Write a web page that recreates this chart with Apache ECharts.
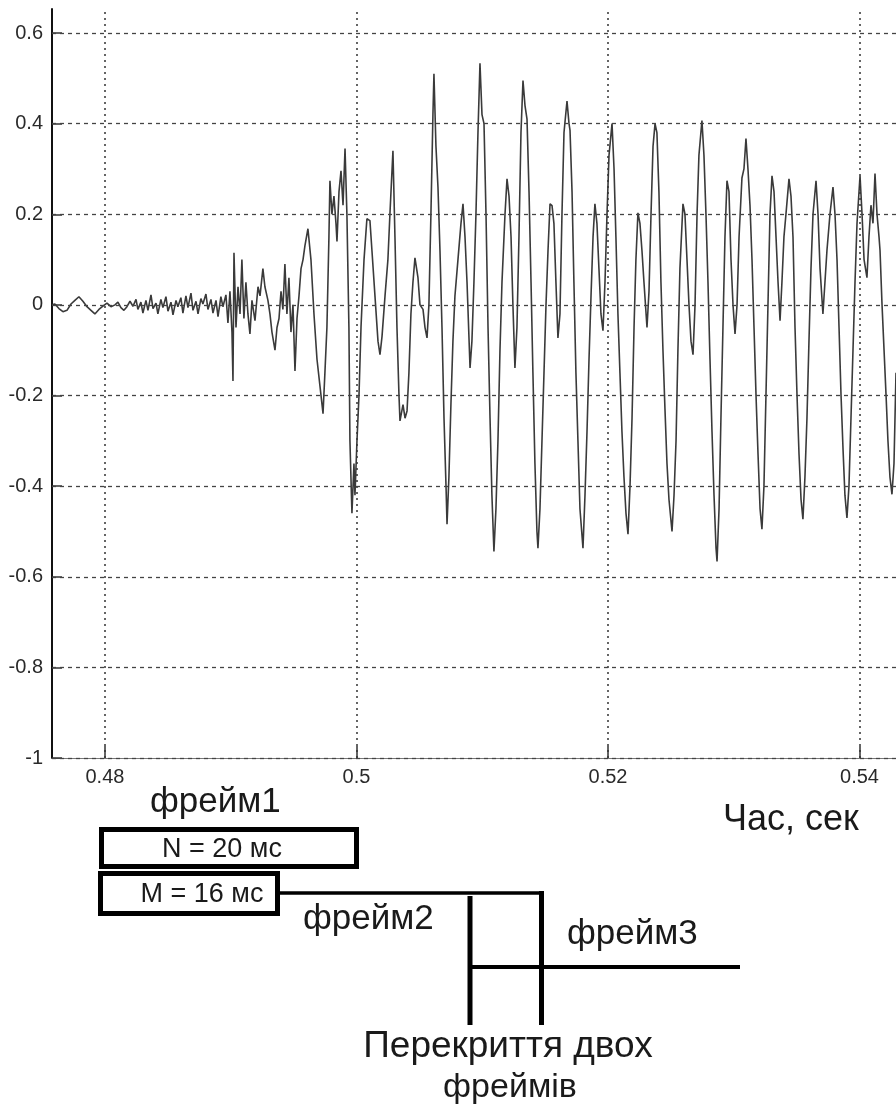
<!DOCTYPE html>
<html>
<head>
<meta charset="utf-8">
<title>Фрейми сигналу</title>
<script src="https://cdn.jsdelivr.net/npm/echarts@6.0.0/dist/echarts.min.js"></script>
<style>
  html, body { margin: 0; padding: 0; background: #fff; }
  #chart { width: 896px; height: 1109px; }
</style>
</head>
<body>
<div id="chart"></div>
<script>
  // axis ticks
  var xTicks = [0.48, 0.5, 0.52, 0.54];
  var yTicks = [-1, -0.8, -0.6, -0.4, -0.2, 0, 0.2, 0.4, 0.6];

  // waveform, [time (s), amplitude]
  // quiet lead-in before the onset
  var noiseLead = [
    [0.47579, 0.000], [0.47602, 0.002], [0.47634, -0.008], [0.47666, -0.015], [0.47698, -0.012],
    [0.47730, 0.002], [0.47761, 0.010], [0.47793, 0.018], [0.47825, 0.008], [0.47857, -0.004],
    [0.47889, -0.012], [0.47920, -0.020], [0.47952, -0.010], [0.47984, -0.003], [0.48016, 0.004],
    [0.48048, -0.004], [0.48080, 0.000], [0.48103, 0.006], [0.48127, -0.006], [0.48151, -0.012],
    [0.48175, -0.004], [0.48199, 0.008], [0.48223, -0.003], [0.48247, 0.012], [0.48262, -0.010],
    [0.48286, 0.006], [0.48302, -0.018], [0.48326, 0.010], [0.48342, -0.012], [0.48366, 0.022],
    [0.48382, -0.008], [0.48406, 0.004], [0.48421, -0.020], [0.48445, 0.012], [0.48461, -0.006],
    [0.48485, 0.018], [0.48501, -0.014], [0.48525, 0.006], [0.48541, -0.022], [0.48565, 0.010],
    [0.48580, -0.004], [0.48604, 0.016], [0.48620, -0.018], [0.48644, 0.020], [0.48660, -0.006],
    [0.48684, 0.026], [0.48700, -0.012], [0.48724, 0.008], [0.48740, -0.020], [0.48763, 0.014],
    [0.48779, 0.002], [0.48803, 0.024], [0.48819, -0.010], [0.48843, 0.012], [0.48859, -0.018],
    [0.48883, 0.010], [0.48899, -0.026], [0.48922, 0.018], [0.48938, -0.004], [0.48962, 0.022],
    [0.48978, -0.040]
  ];
  // onset, up to 0.5 s
  var onset = [
    [0.48994, 0.030], [0.49010, -0.060], [0.49018, -0.168], [0.49026, 0.115], [0.49042, -0.050],
    [0.49058, 0.040], [0.49074, -0.020], [0.49089, 0.100], [0.49105, -0.030], [0.49121, 0.050],
    [0.49137, -0.020], [0.49153, -0.064], [0.49169, 0.010], [0.49193, -0.035], [0.49217, 0.040],
    [0.49233, 0.020], [0.49256, 0.080], [0.49272, 0.040], [0.49296, 0.010], [0.49312, -0.020],
    [0.49328, -0.060], [0.49352, -0.100], [0.49368, -0.050], [0.49384, -0.030], [0.49400, 0.030],
    [0.49415, -0.010], [0.49431, 0.090], [0.49447, -0.020], [0.49463, 0.060], [0.49479, -0.060],
    [0.49495, 0.000], [0.49511, -0.146], [0.49527, -0.030], [0.49543, 0.020], [0.49559, 0.080],
    [0.49575, 0.100], [0.49590, 0.130], [0.49614, 0.168], [0.49638, 0.100], [0.49662, -0.020],
    [0.49686, -0.120], [0.49710, -0.180], [0.49734, -0.240], [0.49749, -0.150], [0.49765, -0.050],
    [0.49781, 0.150], [0.49789, 0.274], [0.49805, 0.200], [0.49821, 0.240], [0.49837, 0.180],
    [0.49845, 0.140], [0.49861, 0.250], [0.49877, 0.296], [0.49893, 0.220], [0.49909, 0.345],
    [0.49924, 0.200], [0.49940, -0.050], [0.49948, -0.300], [0.49964, -0.460], [0.49980, -0.350],
    [0.49988, -0.420], [0.50004, -0.300]
  ];
  // voiced part
  var voiced = [
    [0.50020, -0.200], [0.50036, -0.050], [0.50060, 0.100], [0.50083, 0.190], [0.50107, 0.186],
    [0.50123, 0.120], [0.50147, 0.020], [0.50171, -0.080], [0.50187, -0.110], [0.50203, -0.070],
    [0.50227, 0.020], [0.50250, 0.100], [0.50266, 0.200], [0.50290, 0.340], [0.50306, 0.150],
    [0.50322, -0.050], [0.50338, -0.200], [0.50346, -0.256], [0.50370, -0.220], [0.50386, -0.250],
    [0.50402, -0.234], [0.50417, -0.150], [0.50433, -0.020], [0.50449, 0.050], [0.50465, 0.104],
    [0.50489, 0.060], [0.50505, 0.000], [0.50529, -0.010], [0.50545, -0.050], [0.50561, -0.073],
    [0.50576, 0.000], [0.50592, 0.200], [0.50608, 0.420], [0.50616, 0.510], [0.50632, 0.350],
    [0.50648, 0.260], [0.50664, 0.120], [0.50680, -0.050], [0.50696, -0.250], [0.50712, -0.400],
    [0.50720, -0.484], [0.50735, -0.380], [0.50751, -0.220], [0.50767, -0.080], [0.50783, 0.020],
    [0.50807, 0.100], [0.50831, 0.180], [0.50847, 0.223], [0.50863, 0.150], [0.50879, 0.050],
    [0.50903, -0.139], [0.50918, -0.080], [0.50934, 0.050], [0.50950, 0.200], [0.50966, 0.380],
    [0.50982, 0.533], [0.50998, 0.420], [0.51014, 0.400], [0.51030, 0.200], [0.51046, -0.050],
    [0.51062, -0.250], [0.51077, -0.420], [0.51093, -0.544], [0.51109, -0.450], [0.51125, -0.300],
    [0.51141, -0.100], [0.51157, 0.050], [0.51181, 0.200], [0.51197, 0.278], [0.51213, 0.240],
    [0.51229, 0.150], [0.51244, 0.000], [0.51260, -0.139], [0.51276, -0.050], [0.51292, 0.150],
    [0.51308, 0.380], [0.51324, 0.495], [0.51340, 0.440], [0.51356, 0.410], [0.51372, 0.250],
    [0.51388, 0.050], [0.51403, -0.150], [0.51419, -0.350], [0.51435, -0.500], [0.51443, -0.537],
    [0.51459, -0.450], [0.51475, -0.300], [0.51491, -0.150], [0.51507, 0.000], [0.51523, 0.120],
    [0.51539, 0.223], [0.51555, 0.219], [0.51570, 0.180], [0.51586, 0.050], [0.51602, -0.073],
    [0.51618, -0.020], [0.51634, 0.200], [0.51650, 0.380], [0.51674, 0.450], [0.51690, 0.400],
    [0.51698, 0.385], [0.51714, 0.250], [0.51729, 0.050], [0.51745, -0.150], [0.51761, -0.300],
    [0.51777, -0.450], [0.51801, -0.537], [0.51817, -0.420], [0.51833, -0.280], [0.51849, -0.120],
    [0.51865, 0.020], [0.51881, 0.150], [0.51896, 0.223], [0.51912, 0.180], [0.51928, 0.080],
    [0.51944, -0.020], [0.51960, -0.057], [0.51976, 0.050], [0.51992, 0.200], [0.52008, 0.330],
    [0.52032, 0.400], [0.52048, 0.300], [0.52063, 0.150], [0.52079, -0.020], [0.52095, -0.150],
    [0.52111, -0.280], [0.52127, -0.380], [0.52143, -0.460], [0.52159, -0.506], [0.52175, -0.400],
    [0.52191, -0.250], [0.52207, -0.050], [0.52222, 0.100], [0.52238, 0.203], [0.52254, 0.180],
    [0.52270, 0.120], [0.52286, 0.050], [0.52310, -0.050], [0.52326, 0.030], [0.52342, 0.200],
    [0.52358, 0.350], [0.52374, 0.400], [0.52389, 0.380], [0.52405, 0.250], [0.52421, 0.050],
    [0.52437, -0.100], [0.52453, -0.230], [0.52469, -0.350], [0.52485, -0.430], [0.52509, -0.500],
    [0.52525, -0.420], [0.52541, -0.300], [0.52556, -0.100], [0.52572, 0.080], [0.52596, 0.223],
    [0.52612, 0.200], [0.52628, 0.100], [0.52644, 0.000], [0.52660, -0.080], [0.52676, -0.110],
    [0.52692, 0.000], [0.52708, 0.200], [0.52723, 0.330], [0.52747, 0.407], [0.52763, 0.330],
    [0.52779, 0.200], [0.52795, 0.050], [0.52811, -0.120], [0.52827, -0.280], [0.52843, -0.420],
    [0.52859, -0.537], [0.52867, -0.566], [0.52883, -0.450], [0.52898, -0.250], [0.52914, -0.050],
    [0.52930, 0.150], [0.52946, 0.274], [0.52962, 0.250], [0.52978, 0.100], [0.52994, 0.000],
    [0.53010, -0.064], [0.53026, 0.000], [0.53042, 0.150], [0.53065, 0.280], [0.53081, 0.300],
    [0.53097, 0.367], [0.53113, 0.300], [0.53129, 0.220], [0.53145, 0.100], [0.53161, -0.050],
    [0.53177, -0.200], [0.53193, -0.330], [0.53209, -0.450], [0.53224, -0.495], [0.53240, -0.400],
    [0.53256, -0.200], [0.53272, 0.000], [0.53288, 0.200], [0.53304, 0.285], [0.53320, 0.250],
    [0.53336, 0.150], [0.53352, 0.050], [0.53368, -0.035], [0.53383, 0.050], [0.53399, 0.150],
    [0.53415, 0.200], [0.53439, 0.278], [0.53455, 0.240], [0.53471, 0.150], [0.53487, -0.050],
    [0.53503, -0.200], [0.53519, -0.330], [0.53535, -0.430], [0.53550, -0.473], [0.53566, -0.380],
    [0.53582, -0.250], [0.53598, -0.080], [0.53614, 0.080], [0.53630, 0.200], [0.53654, 0.274],
    [0.53670, 0.200], [0.53686, 0.080], [0.53709, -0.020], [0.53725, 0.050], [0.53741, 0.120],
    [0.53765, 0.200], [0.53789, 0.260], [0.53805, 0.200], [0.53821, 0.100], [0.53837, -0.050],
    [0.53853, -0.200], [0.53869, -0.320], [0.53884, -0.420], [0.53900, -0.470], [0.53916, -0.400],
    [0.53932, -0.250], [0.53948, -0.100], [0.53964, 0.050], [0.53980, 0.180], [0.54004, 0.285],
    [0.54020, 0.200], [0.54036, 0.100], [0.54059, 0.060], [0.54075, 0.150], [0.54091, 0.220],
    [0.54107, 0.180], [0.54123, 0.290], [0.54139, 0.200], [0.54155, 0.150], [0.54163, 0.120],
    [0.54179, 0.000], [0.54195, -0.100], [0.54211, -0.200], [0.54226, -0.300], [0.54242, -0.380],
    [0.54258, -0.418], [0.54274, -0.350], [0.54290, -0.150]
  ];

  // diagram texts under the axis
  var frameLabels = ['фрейм1', 'фрейм2', 'фрейм3'];
  var lengthLabels = ['N = 20 мс', 'M = 16 мс'];
  var axisTitle = 'Час, сек';
  var overlapLabel = ['Перекриття двох', 'фреймів'];

  var waveform = noiseLead.concat(onset, voiced);
  var fontFamily = '"Liberation Sans", Arial, sans-serif';
  var ink = '#1a1a1a';

  var gridLines = xTicks.map(function (v) {
    return { xAxis: v, lineStyle: { color: '#333', width: 1.5, type: [2, 4] } };
  }).concat(yTicks.map(function (v) {
    return { yAxis: v, lineStyle: { color: '#444', width: 1.3, type: [4, 4] } };
  }));

  function label(text, x, y, size, align) {
    return {
      type: 'text',
      style: {
        text: text, x: x, y: y, font: size + 'px ' + fontFamily, fill: ink,
        textAlign: align || 'left', textVerticalAlign: 'middle'
      }
    };
  }

  var myChart = echarts.init(document.getElementById('chart'));
  var option = {
    backgroundColor: '#fff',
    animation: false,
    grid: { left: 52, top: 9, right: 0, bottom: 351, containLabel: false },
    xAxis: {
      type: 'value',
      min: 0.47579,
      max: 0.5429,
      axisLine: { onZero: false, lineStyle: { color: '#777', width: 1 } },
      axisTick: { inside: true, length: 12, customValues: xTicks, lineStyle: { color: '#333', width: 1.5 } },
      axisLabel: { customValues: xTicks, margin: 9, fontSize: 20, color: '#2a2a2a', fontFamily: 'Liberation Sans' },
      splitLine: { show: false }
    },
    yAxis: {
      type: 'value',
      min: -1,
      max: 0.653,
      axisLine: { onZero: false, lineStyle: { color: '#111', width: 2 } },
      axisTick: { inside: true, length: 10, customValues: yTicks, lineStyle: { color: '#333', width: 1.5 } },
      axisLabel: { customValues: yTicks, margin: 9, fontSize: 20, color: '#2a2a2a', fontFamily: 'Liberation Sans' },
      splitLine: { show: false }
    },
    series: [{
      type: 'line',
      data: waveform,
      showSymbol: false,
      clip: true,
      lineStyle: { color: '#3a3a3a', width: 1.6 },
      markLine: {
        silent: true,
        symbol: 'none',
        label: { show: false },
        data: gridLines
      }
    }],
    graphic: [
      label(frameLabels[0], 150, 802, 35),
      { type: 'rect', shape: { x: 101.5, y: 829.5, width: 255, height: 37 }, style: { fill: 'none', stroke: '#000', lineWidth: 5 } },
      label(lengthLabels[0], 222, 850, 27, 'center'),
      { type: 'rect', shape: { x: 100.5, y: 873.5, width: 177, height: 40 }, style: { fill: 'none', stroke: '#000', lineWidth: 5 } },
      label(lengthLabels[1], 202, 895, 27, 'center'),
      { type: 'line', shape: { x1: 280, y1: 893, x2: 543, y2: 893 }, style: { stroke: '#000', lineWidth: 3.5 } },
      { type: 'line', shape: { x1: 541.5, y1: 891, x2: 541.5, y2: 1025 }, style: { stroke: '#000', lineWidth: 5 } },
      { type: 'line', shape: { x1: 470, y1: 896, x2: 470, y2: 1025 }, style: { stroke: '#000', lineWidth: 5 } },
      { type: 'line', shape: { x1: 470, y1: 967, x2: 740, y2: 967 }, style: { stroke: '#000', lineWidth: 4 } },
      label(frameLabels[1], 303, 919, 35),
      label(frameLabels[2], 567, 934, 35),
      label(axisTitle, 723, 820, 36),
      label(overlapLabel[0], 508, 1047, 37, 'center'),
      label(overlapLabel[1], 510, 1088, 34, 'center')
    ]
  };
  myChart.setOption(option);
</script>
</body>
</html>
